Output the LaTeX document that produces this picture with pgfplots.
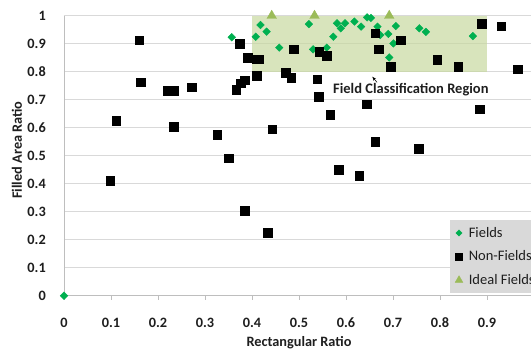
\documentclass[border=0pt]{standalone}
\usepackage{pgfplots}
\pgfplotsset{compat=1.18}
\usepackage{fontspec}
\setmainfont{Carlito}
\usetikzlibrary{arrows.meta}
\definecolor{gridgray}{RGB}{217,217,217}
\definecolor{axgray}{RGB}{190,190,190}
\definecolor{regfill}{RGB}{199,216,159}
\definecolor{fieldgreen}{RGB}{0,176,80}
\definecolor{idealgreen}{RGB}{155,187,89}
\definecolor{leggray}{RGB}{217,217,217}
\definecolor{txt}{RGB}{30,30,30}
\begin{document}
\begin{tikzpicture}
\path[use as bounding box, clip] (-64pt,-53.3pt) rectangle (467pt,295.7pt);
\begin{axis}[
  at={(0pt,0pt)}, anchor=south west,
  scale only axis, width=470pt, height=280pt,
  xmin=0, xmax=1, ymin=0, ymax=1,
  clip=false,
  axis lines*=left,
  axis line style={axgray, line width=0.8pt},
  ymajorgrids, grid style={gridgray, line width=0.8pt},
  xtick={0,0.1,0.2,0.3,0.4,0.5,0.6,0.7,0.8,0.9},
  xticklabels={0,0.1,0.2,0.3,0.4,0.5,0.6,0.7,0.8,0.9},
  extra x ticks={1}, extra x tick labels={},
  ytick={0,0.1,0.2,0.3,0.4,0.5,0.6,0.7,0.8,0.9,1},
  yticklabels={0,0.1,0.2,0.3,0.4,0.5,0.6,0.7,0.8,0.9,1},
  ytick style={draw=none},
  xtick style={axgray, line width=0.8pt},
  tick align=outside, major tick length=4pt,
  ticklabel style={font=\fontsize{14.3}{16}\selectfont\bfseries, text=txt},
  yticklabel style={anchor=east, inner sep=0pt, xshift=-14pt},
  xticklabel style={anchor=center, inner sep=0pt, yshift=-23pt},
  xlabel={Rectangular Ratio},
  ylabel={Filled Area Ratio},
  label style={font=\fontsize{14.3}{16}\selectfont\bfseries, text=txt},
  xlabel style={at={(axis description cs:0.5,-0.168)}, anchor=center},
  ylabel style={at={(axis description cs:-0.1,0.52)}, anchor=center, rotate=0},
  legend style={at={(0.8213,0.2704)}, anchor=north west, fill=leggray, draw=none,
     font=\fontsize{14.5}{16}\selectfont, text=txt, row sep=8pt, inner xsep=5pt, inner ysep=5pt,
     /tikz/every odd column/.append style={column sep=4pt}},
  legend cell align=left,
  legend image code/.code={\draw[#1, every mark/.append style={scale=0.8}] plot coordinates {(0pt,0pt)};},
]
\addplot[fill=regfill, fill opacity=0.7, draw=none, forget plot]
  coordinates {(0.4,0.8) (0.9,0.8) (0.9,1.0) (0.4,1.0)};
\node[font=\fontsize{14.5}{16}\selectfont\bfseries, text=txt] at (axis cs:0.738,0.735) {Field Classification Region};
\draw[-{Stealth[length=4pt]}, black, line width=0.6pt] (axis cs:0.666,0.762) -- (axis cs:0.656,0.782);
% Fields
\addplot[only marks, mark=square*, mark size=2.7pt, mark options={rotate=45, fill=fieldgreen, draw=fieldgreen}] coordinates {
(0,0)
(0.357,0.923) (0.408,0.925) (0.418,0.967) (0.431,0.943) (0.458,0.886)
(0.521,0.970) (0.530,0.880) (0.559,0.886) (0.573,0.925) (0.581,0.973)
(0.589,0.955) (0.598,0.973) (0.618,0.979) (0.632,0.961) (0.645,0.994)
(0.653,0.992) (0.667,0.961) (0.673,0.931) (0.690,0.935) (0.706,0.963)
(0.701,0.901) (0.692,0.851) (0.756,0.955) (0.770,0.942) (0.870,0.927)
};
\addlegendentry{Fields}
% Non-Fields
\addplot[only marks, mark=square*, mark size=4.3pt, mark options={fill=black, draw=black}] coordinates {
(0.098,0.411) (0.111,0.626) (0.160,0.913) (0.163,0.762) (0.221,0.732)
(0.234,0.732) (0.233,0.604) (0.272,0.744) (0.326,0.574) (0.351,0.491)
(0.366,0.735) (0.376,0.759) (0.385,0.770) (0.374,0.901) (0.391,0.851)
(0.409,0.845) (0.415,0.844) (0.410,0.785) (0.385,0.303) (0.433,0.225)
(0.443,0.594) (0.472,0.796) (0.483,0.779) (0.489,0.881) (0.539,0.773)
(0.542,0.711) (0.543,0.871) (0.559,0.857) (0.566,0.646) (0.585,0.451)
(0.628,0.429) (0.644,0.684) (0.662,0.937) (0.670,0.881) (0.662,0.549)
(0.695,0.818) (0.717,0.912) (0.755,0.524) (0.794,0.842) (0.839,0.818)
(0.885,0.666) (0.889,0.971) (0.930,0.963) (0.965,0.809)
};
\addlegendentry{Non-Fields}
% Ideal Fields
\addplot[only marks, mark=triangle*, mark size=5.5pt, mark options={fill=idealgreen, draw=idealgreen}] coordinates {
(0.442,1.0) (0.533,1.0) (0.692,1.0)
};
\addlegendentry{Ideal Fields}
\end{axis}
\end{tikzpicture}
\end{document}
